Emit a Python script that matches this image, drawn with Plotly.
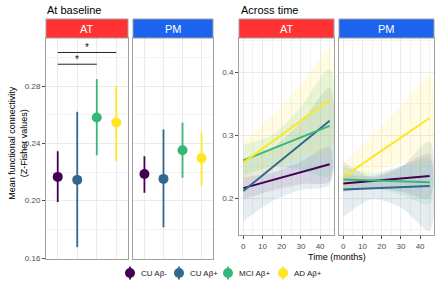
import plotly.graph_objects as go

# ---------------- data ----------------
groups = ["CU Aβ-", "CU Aβ+", "MCI Aβ+", "AD Aβ+"]
colors = ["#440154", "#31688E", "#35B779", "#FDE725"]
fills = ["rgba(68,1,84,0.10)", "rgba(49,104,142,0.12)", "rgba(53,183,121,0.13)", "rgba(253,231,37,0.13)"]
regions = ["AT", "PM"]
strip_colors = {"AT": "#FF3333", "PM": "#1C64EE"}

# baseline means and CI
base_mean = {"AT": [0.2166, 0.2145, 0.2580, 0.2545],
             "PM": [0.2186, 0.2152, 0.2352, 0.2297]}
base_low = {"AT": [0.1990, 0.1676, 0.2317, 0.2276],
            "PM": [0.2055, 0.1814, 0.2159, 0.2103]}
base_high = {"AT": [0.2345, 0.2620, 0.2848, 0.2800],
             "PM": [0.2310, 0.2497, 0.2545, 0.2476]}
# significance comparisons (category index pairs, height)
sig_pairs = [(1, 4, 0.3034), (1, 3, 0.2952)]

# longitudinal fits
time_pts = [0, 15, 30, 45]
line_start = {"AT": [0.2157, 0.2110, 0.2598, 0.2562],
              "PM": [0.2231, 0.2137, 0.2294, 0.2335]}
line_end = {"AT": [0.2535, 0.3225, 0.3146, 0.3560],
            "PM": [0.2350, 0.2190, 0.2252, 0.3270]}
rib_low = {"AT": [[0.198, 0.212, 0.222, 0.226],
                  [0.163, 0.195, 0.213, 0.222],
                  [0.235, 0.250, 0.245, 0.235],
                  [0.225, 0.245, 0.265, 0.275]],
           "PM": [[0.210, 0.215, 0.210, 0.200],
                  [0.170, 0.198, 0.185, 0.148],
                  [0.210, 0.215, 0.205, 0.190],
                  [0.210, 0.240, 0.255, 0.260]]}
rib_high = {"AT": [[0.233, 0.240, 0.258, 0.281],
                   [0.260, 0.280, 0.320, 0.375],
                   [0.285, 0.300, 0.345, 0.405],
                   [0.290, 0.330, 0.380, 0.437]],
            "PM": [[0.238, 0.235, 0.250, 0.270],
                   [0.258, 0.233, 0.249, 0.290],
                   [0.250, 0.240, 0.250, 0.262],
                   [0.255, 0.300, 0.345, 0.394]]}
time_ticks = [0, 10, 20, 30, 40]

# ---------------- layout geometry ----------------
W, H = 440, 286
def px_x(a, b):
    return [a / W, b / W]
top = 1 - 38 / H
xdom = [px_x(46, 128), px_x(133, 213), px_x(239, 334), px_x(339, 434)]
ydom_left = [27 / H, top]
ydom_right = [51 / H, top]
# custom legend key positions (pixels)
legend_x = [130, 179, 228, 283]
legend_y = 13  # from bottom

FONT = "Liberation Sans, Arial, sans-serif"
GRID = "#EBEBEB"
BORDER = "#A0A0A0"
TICKC = "#4D4D4D"

fig = go.Figure()

# baseline panels
for ri, reg in enumerate(regions):
    ax = "" if ri == 0 else str(ri + 1)
    for gi, g in enumerate(groups):
        m = base_mean[reg][gi]
        fig.add_trace(go.Scatter(
            x=[gi + 1], y=[m], mode="markers",
            marker=dict(color=colors[gi], size=10),
            error_y=dict(type="data", symmetric=False,
                         array=[base_high[reg][gi] - m],
                         arrayminus=[m - base_low[reg][gi]],
                         color=colors[gi], thickness=1.8, width=0),
            name=g, showlegend=False,
            xaxis="x" + ax, yaxis="y" + ax))

# longitudinal panels
for ri, reg in enumerate(regions):
    ax = str(ri + 3)
    for gi, g in enumerate(groups):
        fig.add_trace(go.Scatter(
            x=time_pts + time_pts[::-1],
            y=rib_high[reg][gi] + rib_low[reg][gi][::-1],
            fill="toself", fillcolor=fills[gi], mode="lines",
            line=dict(width=0, shape="spline", smoothing=0.8),
            hoverinfo="skip", showlegend=False,
            xaxis="x" + ax, yaxis="y" + ax))
    for gi, g in enumerate(groups):
        fig.add_trace(go.Scatter(
            x=[time_pts[0], time_pts[-1]],
            y=[line_start[reg][gi], line_end[reg][gi]],
            mode="lines", line=dict(color=colors[gi], width=2),
            showlegend=False, xaxis="x" + ax, yaxis="y" + ax))

# custom legend keys (pointrange glyph)
for gi, g in enumerate(groups):
    fig.add_trace(go.Scatter(
        x=[legend_x[gi]], y=[legend_y], mode="markers",
        marker=dict(color=colors[gi], size=10),
        error_y=dict(type="constant", value=6.5, color=colors[gi], thickness=1.8, width=0),
        showlegend=False, hoverinfo="skip", xaxis="x5", yaxis="y5"))

# axes
layout = dict(
    width=W, height=H, margin=dict(l=0, r=0, t=0, b=0, autoexpand=False),
    paper_bgcolor="white", plot_bgcolor="white",
    font=dict(family=FONT, color="black"),
    showlegend=False,
)

common_y = dict(showline=True, mirror=True, linecolor=BORDER, linewidth=1,
                gridcolor=GRID, gridwidth=1, zeroline=False, automargin=False,
                ticks="outside", ticklen=3, tickcolor=TICKC,
                tickfont=dict(size=8, color=TICKC))
common_x = dict(showline=True, mirror=True, linecolor=BORDER, linewidth=1,
                gridcolor=GRID, gridwidth=1, zeroline=False, automargin=False)

for i in range(4):
    key = "xaxis" if i == 0 else "xaxis%d" % (i + 1)
    ykey = "yaxis" if i == 0 else "yaxis%d" % (i + 1)
    ya = "y" if i == 0 else "y%d" % (i + 1)
    xa = "x" if i == 0 else "x%d" % (i + 1)
    if i < 2:
        layout[key] = dict(common_x, domain=xdom[i], range=[0.4, 4.6],
                           tickvals=[1, 2, 3, 4], showticklabels=False, ticks="",
                           anchor=ya)
        layout[ykey] = dict(common_y, domain=ydom_left, range=[0.1593, 0.3135],
                            tickvals=[0.16, 0.20, 0.24, 0.28], tickformat=".2f",
                            minor=dict(tickvals=[0.18, 0.22, 0.26, 0.30], showgrid=True,
                                       gridcolor="#F3F3F3", ticks=""),
                            showticklabels=(i == 0), anchor=xa)
        if i == 1:
            layout[ykey]["ticks"] = ""
    else:
        layout[key] = dict(common_x, domain=xdom[i], range=[-2.25, 47.25],
                           tickvals=time_ticks, ticks="outside", ticklen=3,
                           tickcolor=TICKC, tickfont=dict(size=8, color=TICKC),
                           minor=dict(tickvals=[5, 15, 25, 35, 45], showgrid=True,
                                      gridcolor="#F3F3F3", ticks=""),
                           anchor=ya)
        layout[ykey] = dict(common_y, domain=ydom_right, range=[0.1413, 0.454],
                            tickvals=[0.2, 0.3, 0.4], tickformat=".1f",
                            minor=dict(tickvals=[0.15, 0.25, 0.35, 0.45], showgrid=True,
                                       gridcolor="#F3F3F3", ticks=""),
                            showticklabels=(i == 2), anchor=xa)
        if i == 3:
            layout[ykey]["ticks"] = ""

# legend axis (pixel units, bottom strip of figure)
layout["xaxis5"] = dict(domain=[0, 1], range=[0, W], visible=False, fixedrange=True,
                        automargin=False, anchor="y5")
layout["yaxis5"] = dict(domain=[0, 22 / H], range=[0, 22], visible=False, fixedrange=True,
                        automargin=False, anchor="x5")

fig.update_layout(**layout)

shapes = []
annotations = []
# strips
strip_top = 1 - 19 / H
for i in range(4):
    reg = regions[i % 2]
    shapes.append(dict(type="rect", xref="paper", yref="paper",
                       x0=xdom[i][0], x1=xdom[i][1], y0=top, y1=strip_top,
                       fillcolor=strip_colors[reg], line=dict(color=BORDER, width=1)))
    annotations.append(dict(xref="paper", yref="paper", x=(xdom[i][0] + xdom[i][1]) / 2,
                            y=(top + strip_top) / 2, text=reg, showarrow=False,
                            font=dict(size=11, color="white"), xanchor="center",
                            yanchor="middle"))

# significance bars
for (a, b, h) in sig_pairs:
    shapes.append(dict(type="line", xref="x", yref="y", x0=a, x1=b, y0=h, y1=h,
                       line=dict(color="#222222", width=1)))
    annotations.append(dict(xref="x", yref="y", x=(a + b) / 2, y=h, text="*",
                            showarrow=False, yanchor="bottom", yshift=-3,
                            font=dict(size=10, color="#111111")))

# legend labels
for gi, g in enumerate(groups):
    annotations.append(dict(xref="x5", yref="y5", x=legend_x[gi], y=legend_y, text=g,
                            showarrow=False, xanchor="left", yanchor="middle", xshift=9,
                            font=dict(size=8, color="#1A1A1A")))

# titles
annotations.append(dict(xref="paper", yref="paper", x=45 / W, y=1 - 10 / H,
                        text="At baseline", showarrow=False, xanchor="left",
                        yanchor="middle", font=dict(size=11, color="black")))
annotations.append(dict(xref="paper", yref="paper", x=239 / W, y=1 - 10 / H,
                        text="Across time", showarrow=False, xanchor="left",
                        yanchor="middle", font=dict(size=11, color="black")))
annotations.append(dict(xref="paper", yref="paper", x=18 / W,
                        y=(ydom_left[0] + ydom_left[1]) / 2 + 0.02,
                        text="Mean functional connectivity<br>(Z-Fisher values)",
                        showarrow=False, textangle=-90, xanchor="center",
                        yanchor="middle", font=dict(size=9, color="black")))
annotations.append(dict(xref="paper", yref="paper", x=(xdom[2][0] + xdom[3][1]) / 2,
                        y=1 - 257 / H, text="Time (months)", showarrow=False,
                        xanchor="center", yanchor="middle",
                        font=dict(size=9, color="black")))

fig.update_layout(shapes=shapes, annotations=annotations)
fig.write_html("out.html", config={"displayModeBar": False},
               post_script="document.body.style.margin='0';document.body.style.overflow='hidden';")
